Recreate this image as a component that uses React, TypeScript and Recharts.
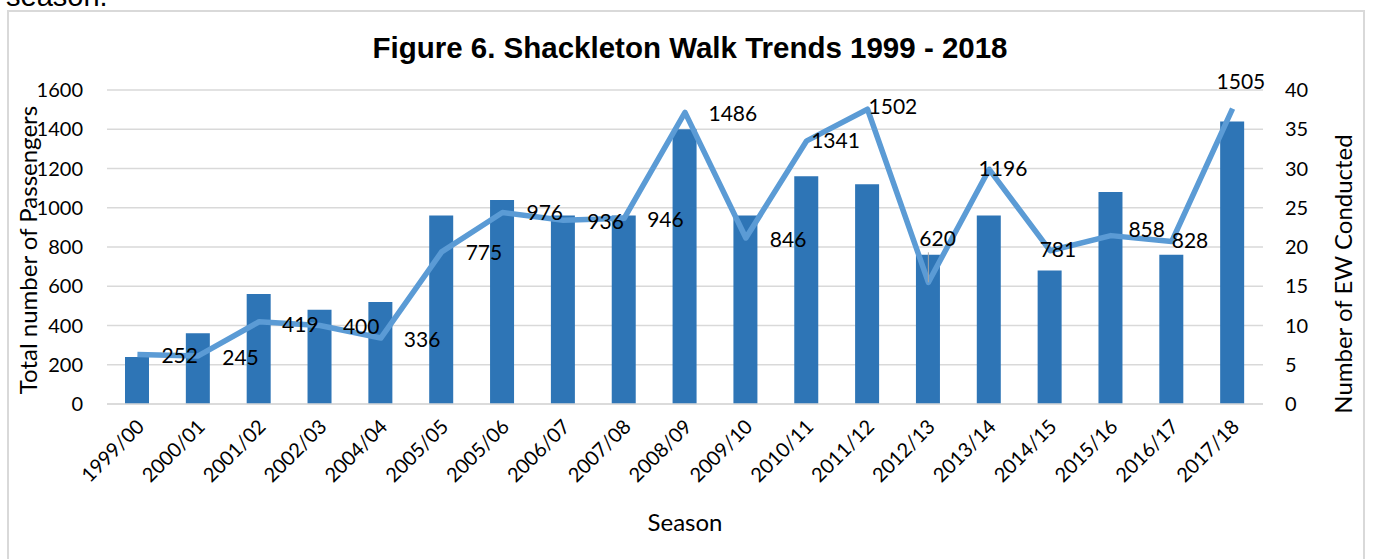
import {
  ComposedChart,
  Bar,
  Line,
  XAxis,
  YAxis,
  CartesianGrid,
  LabelList,
  Label,
} from "recharts";

const seasons = [
  "1999/00", "2000/01", "2001/02", "2002/03", "2004/04", "2005/05", "2005/06",
  "2006/07", "2007/08", "2008/09", "2009/10", "2010/11", "2011/12", "2012/13",
  "2013/14", "2014/15", "2015/16", "2016/17", "2017/18",
];
const ewConducted = [6, 9, 14, 12, 13, 24, 26, 24, 24, 35, 24, 29, 28, 19, 24, 17, 27, 19, 36];
const passengers = [252, 245, 419, 400, 336, 775, 976, 936, 946, 1486, 846, 1341, 1502, 620, 1196, 781, 858, 828, 1505];
const passengerTicks = [0, 200, 400, 600, 800, 1000, 1200, 1400, 1600];
const ewTicks = [0, 5, 10, 15, 20, 25, 30, 35, 40];

// where Excel left each data label: [start x, middle y] relative to the point
const labelNudges: [number, number][] = [
  [24, 1.5], [24, 2], [23, 3], [23, 1], [23, 2], [24, 1], [24, 0.5], [24, 1.5],
  [23, 1.5], [23.5, 1.5], [24, 2], [4.5, 0], [1, -3], [-9, -44], [-10.6, -0.5],
  [-10.4, -1], [17.5, -6], [0, -0.7], [-16, -27],
];
const leaderLabels = [13];

const data = seasons.map((season, i) => ({
  season,
  ew: ewConducted[i],
  passengers: passengers[i],
}));

const FONT = "Lato, 'Open Sans', sans-serif";
const BAR = "#2e75b6";
const LINE = "#5b9bd5";
const GRID = "#d9d9d9";

function SeasonTick(props: any) {
  const { x, y, payload } = props;
  return (
    <g transform={`translate(${x + 3},${y + 19})`}>
      <text
        textAnchor="end"
        dy="0.35em"
        transform="rotate(-45)"
        fontSize={20}
        fontFamily={FONT}
        fill="#000"
      >
        {payload.value}
      </text>
    </g>
  );
}

function PassengerLabel(props: any) {
  const { x, y, value, index } = props;
  const [dx, dy] = labelNudges[index] || [24, 1];
  return (
    <g>
      {leaderLabels.includes(index) && (
        <line x1={x} y1={y} x2={x + dx + 9} y2={y + dy + 14} stroke="#a6a6a6" strokeWidth={1} />
      )}
      <text
        x={x + dx}
        y={y + dy}
        dy="0.35em"
        textAnchor="start"
        fontSize={21}
        fontFamily={FONT}
        fill="#000"
      >
        {value}
      </text>
    </g>
  );
}

export default function App() {
  return (
    <div style={{ position: "absolute", left: 0, top: 0, width: 1373, height: 559, overflow: "hidden", background: "#fff" }}>
      <div
        style={{
          position: "absolute",
          left: 7,
          top: 10,
          width: 1354,
          height: 570,
          border: `2px solid ${GRID}`,
        }}
      />
      <div style={{ position: "absolute", left: 0, top: 0 }}>
        <ComposedChart
          width={1373}
          height={559}
          data={data}
          margin={{ top: 90, right: 30, bottom: 55, left: 27 }}
        >
          <CartesianGrid yAxisId="left" vertical={false} stroke={GRID} strokeWidth={1.5} />
          <XAxis
            dataKey="season"
            interval={0}
            height={100}
            tickLine={false}
            tickSize={0}
            tickMargin={0}
            axisLine={{ stroke: GRID, strokeWidth: 1.5 }}
            tick={<SeasonTick />}
          >
            <Label
              content={(p: any) => (
                <text
                  x={p.viewBox.x + p.viewBox.width / 2}
                  y={523}
                  dy="0.35em"
                  textAnchor="middle"
                  fontSize={24}
                  fontFamily={FONT}
                  fill="#000"
                >
                  Season
                </text>
              )}
            />
          </XAxis>
          <YAxis
            yAxisId="left"
            domain={[0, 1600]}
            ticks={passengerTicks}
            width={80}
            axisLine={false}
            tickLine={false}
            tickSize={0}
            tickMargin={24}
            tick={{ fontSize: 20, fontFamily: FONT, fill: "#000" }}
          >
            <Label
              content={(p: any) => {
                const cx = p.viewBox.x + 10;
                const cy = 250;
                return (
                  <text
                    x={cx}
                    y={cy}
                    transform={`rotate(-90, ${cx}, ${cy})`}
                    textAnchor="middle"
                    fontSize={24}
                    fontFamily={FONT}
                    fill="#000"
                  >
                    Total number of Passengers
                  </text>
                );
              }}
            />
          </YAxis>
          <YAxis
            yAxisId="right"
            orientation="right"
            domain={[0, 40]}
            ticks={ewTicks}
            width={80}
            axisLine={false}
            tickLine={false}
            tickSize={0}
            tickMargin={22}
            tick={{ fontSize: 20, fontFamily: FONT, fill: "#000" }}
          >
            <Label
              content={(p: any) => {
                const cx = p.viewBox.x + 89;
                const cy = 274;
                return (
                  <text
                    x={cx}
                    y={cy}
                    transform={`rotate(-90, ${cx}, ${cy})`}
                    textAnchor="middle"
                    fontSize={24}
                    fontFamily={FONT}
                    fill="#000"
                  >
                    Number of EW Conducted
                  </text>
                );
              }}
            />
          </YAxis>
          <Bar yAxisId="right" dataKey="ew" fill={BAR} barSize={24} isAnimationActive={false} />
          <Line
            yAxisId="left"
            type="linear"
            dataKey="passengers"
            stroke={LINE}
            strokeWidth={5.5}
            strokeLinejoin="round"
            dot={false}
            activeDot={false}
            isAnimationActive={false}
          >
            <LabelList dataKey="passengers" content={<PassengerLabel />} />
          </Line>
        </ComposedChart>
      </div>
      <svg
        width={1373}
        height={559}
        style={{ position: "absolute", left: 0, top: 0, pointerEvents: "none" }}
      >
        <text x={6} y={6} fontSize={29} fontFamily="'Liberation Sans', Arial, sans-serif" fill="#000">
          season.
        </text>
        <text
          x={690}
          y={58}
          textAnchor="middle"
          fontSize={29.5}
          fontWeight="bold"
          fontFamily="'Liberation Sans', Arial, sans-serif"
          fill="#000"
        >
          Figure 6. Shackleton Walk Trends 1999 - 2018
        </text>
      </svg>
    </div>
  );
}
